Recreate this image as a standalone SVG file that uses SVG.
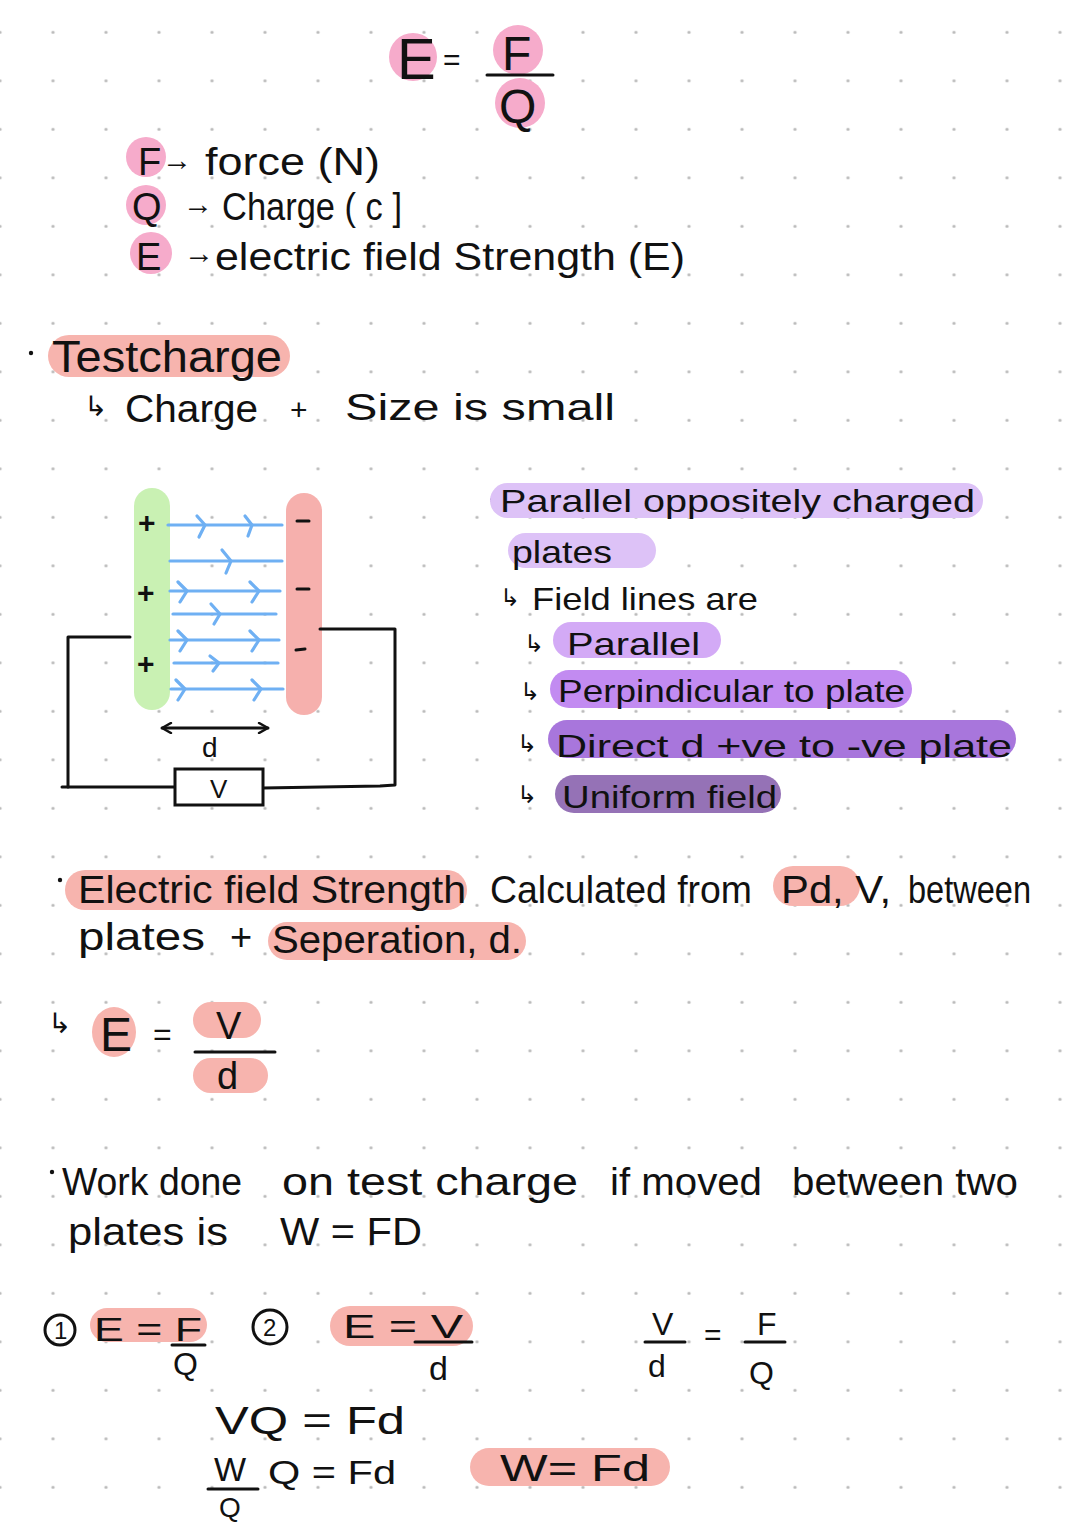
<svg xmlns="http://www.w3.org/2000/svg" width="1080" height="1526" viewBox="0 0 1080 1526">
<defs>
<pattern id="dots" x="-26.5" y="8.05" width="53" height="48.5" patternUnits="userSpaceOnUse">
<circle cx="26.5" cy="24.25" r="1.6" fill="#b9b9b9"/>
</pattern>
<marker id="chev" viewBox="0 0 12 12" refX="11" refY="6" markerWidth="12" markerHeight="12" markerUnits="userSpaceOnUse" orient="auto-start-reverse">
<path d="M2 1 L11 6 L2 11" fill="none" stroke="#111" stroke-width="2.5" stroke-linecap="round"/>
</marker>
</defs>
<style>
text{font-family:"Liberation Sans","DejaVu Sans",sans-serif;fill:#111;}
.h{font-size:38px;}
.m{font-size:32px;}
.arr{font-size:30px;}
.pink{fill:#f6abcb;}
.sal{fill:#f7b4ae;}
.wire{fill:none;stroke:#111;stroke-width:3;stroke-linecap:round;stroke-linejoin:round;}
.field{fill:none;stroke:#6fb0f3;stroke-width:3.2;stroke-linecap:round;}
.chev{fill:none;stroke:#6fb0f3;stroke-width:3.2;stroke-linecap:round;stroke-linejoin:round;}
.bar{stroke:#111;stroke-width:3;stroke-linecap:round;}
</style>
<rect width="1080" height="1526" fill="#ffffff"/>
<rect width="1080" height="1526" fill="url(#dots)"/>

<g id="formula-top">
<circle class="pink" cx="413" cy="57" r="24"/>
<circle class="pink" cx="518" cy="50" r="25"/>
<circle class="pink" cx="520" cy="103" r="25"/>
<text x="397" y="79" style="font-size:58px">E</text>
<text x="443" y="70" style="font-size:30px">=</text>
<text x="502" y="70" style="font-size:48px">F</text>
<line class="bar" x1="487" y1="75" x2="553" y2="75"/>
<text x="499" y="123" style="font-size:48px">Q</text>
</g>

<g id="legend">
<circle class="pink" cx="146" cy="157" r="20"/>
<circle class="pink" cx="146" cy="205" r="20"/>
<circle class="pink" cx="151" cy="253" r="21"/>
<text class="h" x="138" y="175">F</text>
<text class="arr" x="162" y="170">→</text>
<text class="h" x="205" y="175" textLength="175" lengthAdjust="spacingAndGlyphs">force (N)</text>
<text class="h" x="132" y="220">Q</text>
<text class="arr" x="183" y="214">→</text>
<text class="h" x="222" y="220" textLength="180" lengthAdjust="spacingAndGlyphs">Charge ( c ]</text>
<text class="h" x="136" y="270">E</text>
<text class="arr" x="184" y="263">→</text>
<text class="h" x="215" y="270" textLength="470" lengthAdjust="spacingAndGlyphs">electric field Strength (E)</text>
</g>

<g id="test-charge">
<circle cx="31" cy="353" r="2.2" fill="#111"/>
<rect class="sal" x="48" y="335" width="242" height="42" rx="21"/>
<text x="52" y="372" style="font-size:44px" textLength="230" lengthAdjust="spacingAndGlyphs">Testcharge</text>
<text x="84" y="416" style="font-size:28px">↳</text>
<text class="h" x="125" y="422" textLength="133" lengthAdjust="spacingAndGlyphs">Charge</text>
<text x="290" y="420" style="font-size:30px">+</text>
<text x="345" y="420" style="font-size:36px" textLength="270" lengthAdjust="spacingAndGlyphs">Size is small</text>
</g>

<g id="plates-diagram">
<rect x="134" y="488" width="36" height="222" rx="18" fill="#c9f1b3"/>
<rect x="286" y="493" width="36" height="222" rx="18" fill="#f6b0ad"/>
<text x="138" y="533" style="font-size:30px;font-weight:bold">+</text>
<text x="137" y="603" style="font-size:30px;font-weight:bold">+</text>
<text x="137" y="674" style="font-size:30px;font-weight:bold">+</text>
<line class="bar" x1="297" y1="521" x2="309" y2="521"/>
<line class="bar" x1="297" y1="589" x2="309" y2="589"/>
<line class="bar" x1="296" y1="650" x2="305" y2="649"/>
</g>

<g id="field-lines">
<line class="field" x1="168" y1="525" x2="282" y2="525"/>
<path class="chev" d="M197 516 L205 525 L199 537 M245 516 L252 525 L248 536"/>
<line class="field" x1="170" y1="561" x2="282" y2="561"/>
<path class="chev" d="M222 550 L231 561 L226 573"/>
<line class="field" x1="170" y1="591" x2="280" y2="591"/>
<path class="chev" d="M178 582 L187 591 L180 602 M250 582 L259 591 L252 602"/>
<line class="field" x1="173" y1="614" x2="276" y2="614"/>
<path class="chev" d="M211 604 L220 614 L214 624"/>
<line class="field" x1="170" y1="640" x2="279" y2="640"/>
<path class="chev" d="M178 631 L187 640 L180 651 M250 631 L259 640 L252 651"/>
<line class="field" x1="174" y1="663" x2="278" y2="663"/>
<path class="chev" d="M210 656 L219 663 L213 671"/>
<line class="field" x1="171" y1="689" x2="283" y2="689"/>
<path class="chev" d="M176 680 L185 689 L178 700 M252 680 L261 689 L254 700"/>
</g>

<g id="connectors">
<line class="wire" x1="162" y1="728" x2="268" y2="728" marker-start="url(#chev)" marker-end="url(#chev)"/>
<path class="wire" d="M130 637 L68 637 L68 787 L175 787"/>
<path class="wire" d="M62 787 L68 787"/>
<path class="wire" d="M263 788 L380 786 L395 785 L395 629 L320 629"/>
</g>

<g id="separation-label">
<text x="202" y="757" style="font-size:28px">d</text>
</g>

<g id="voltmeter">
<rect x="175" y="769" width="88" height="36" fill="#fff" stroke="#111" stroke-width="3"/>
<text x="210" y="798" style="font-size:26px">V</text>
</g>

<g id="parallel-notes">
<circle cx="492" cy="500" r="2" fill="#111"/>
<rect x="490" y="483" width="493" height="35" rx="17.5" fill="#ddc2f7"/>
<text class="m" x="500" y="512" textLength="475" lengthAdjust="spacingAndGlyphs">Parallel oppositely charged</text>
<rect x="508" y="533" width="148" height="35" rx="17.5" fill="#ddc2f7"/>
<text class="m" x="512" y="563" textLength="100" lengthAdjust="spacingAndGlyphs">plates</text>
<text x="500" y="606" style="font-size:24px">↳</text>
<text class="m" x="532" y="610" textLength="226" lengthAdjust="spacingAndGlyphs">Field lines are</text>
<text x="524" y="652" style="font-size:24px">↳</text>
<rect x="553" y="622" width="168" height="36" rx="18" fill="#d3aaf6"/>
<text class="m" x="567" y="655" textLength="133" lengthAdjust="spacingAndGlyphs">Parallel</text>
<text x="520" y="700" style="font-size:24px">↳</text>
<rect x="550" y="670" width="362" height="38" rx="19" fill="#c28bf1"/>
<text class="m" x="558" y="702" textLength="347" lengthAdjust="spacingAndGlyphs">Perpindicular to plate</text>
<text x="517" y="752" style="font-size:24px">↳</text>
<rect x="548" y="720" width="468" height="38" rx="19" fill="#a876dc"/>
<text class="m" x="556" y="757" textLength="456" lengthAdjust="spacingAndGlyphs">Direct d +ve to -ve plate</text>
<text x="517" y="803" style="font-size:24px">↳</text>
<rect x="555" y="775" width="226" height="38" rx="19" fill="#9572b6"/>
<text class="m" x="562" y="808" textLength="215" lengthAdjust="spacingAndGlyphs">Uniform field</text>
</g>

<g id="field-strength-note">
<circle cx="60" cy="880" r="2.2" fill="#111"/>
<rect class="sal" x="65" y="870" width="402" height="40" rx="20"/>
<text class="h" x="78" y="903" textLength="388" lengthAdjust="spacingAndGlyphs">Electric field Strength</text>
<text class="h" x="490" y="903" textLength="262" lengthAdjust="spacingAndGlyphs">Calculated from</text>
<rect class="sal" x="773" y="866" width="87" height="40" rx="20"/>
<text class="h" x="781" y="903" textLength="110" lengthAdjust="spacingAndGlyphs">Pd, V,</text>
<text class="h" x="908" y="903" textLength="123" lengthAdjust="spacingAndGlyphs">between</text>
<text class="h" x="78" y="950" textLength="127" lengthAdjust="spacingAndGlyphs">plates</text>
<text class="h" x="230" y="950">+</text>
<rect class="sal" x="268" y="922" width="258" height="38" rx="19"/>
<text class="h" x="272" y="953" textLength="250" lengthAdjust="spacingAndGlyphs">Seperation, d.</text>
</g>

<g id="formula-vd">
<text x="48" y="1033" style="font-size:28px">↳</text>
<ellipse class="sal" cx="114" cy="1032" rx="22" ry="25"/>
<text x="100" y="1051" style="font-size:48px">E</text>
<text x="153" y="1045" style="font-size:32px">=</text>
<rect class="sal" x="193" y="1002" width="68" height="36" rx="18"/>
<text x="216" y="1039" style="font-size:38px">V</text>
<line class="bar" x1="195" y1="1052" x2="275" y2="1052"/>
<rect class="sal" x="193" y="1058" width="75" height="35" rx="17.5"/>
<text x="217" y="1089" style="font-size:38px">d</text>
</g>

<g id="work-note">
<circle cx="52" cy="1172" r="2.2" fill="#111"/>
<text class="h" x="62" y="1195" textLength="180" lengthAdjust="spacingAndGlyphs">Work done</text>
<text class="h" x="282" y="1195" textLength="296" lengthAdjust="spacingAndGlyphs">on test charge</text>
<text class="h" x="610" y="1195" textLength="152" lengthAdjust="spacingAndGlyphs">if moved</text>
<text class="h" x="792" y="1195" textLength="226" lengthAdjust="spacingAndGlyphs">between two</text>
<text class="h" x="68" y="1245" textLength="160" lengthAdjust="spacingAndGlyphs">plates is</text>
<text class="h" x="280" y="1245" textLength="142" lengthAdjust="spacingAndGlyphs">W = FD</text>
</g>

<g id="eq1">
<circle cx="60" cy="1330" r="15" fill="none" stroke="#111" stroke-width="3"/>
<text x="54" y="1339" style="font-size:24px">1</text>
<rect class="sal" x="90" y="1308" width="117" height="34" rx="17"/>
<text x="94" y="1341" style="font-size:34px" textLength="108" lengthAdjust="spacingAndGlyphs">E = F</text>
<line class="bar" x1="172" y1="1345" x2="205" y2="1345"/>
<text x="173" y="1375" style="font-size:32px">Q</text>
</g>

<g id="eq2">
<circle cx="270" cy="1327" r="17" fill="none" stroke="#111" stroke-width="3"/>
<text x="263" y="1336" style="font-size:24px">2</text>
<rect class="sal" x="330" y="1306" width="143" height="40" rx="20"/>
<text x="343" y="1338" style="font-size:34px" textLength="120" lengthAdjust="spacingAndGlyphs">E = V</text>
<line class="bar" x1="415" y1="1342" x2="472" y2="1342"/>
<text x="429" y="1380" style="font-size:34px">d</text>
</g>

<g id="eq-equate">
<text x="652" y="1335" style="font-size:32px">V</text>
<line class="bar" x1="645" y1="1342" x2="685" y2="1342"/>
<text x="648" y="1377" style="font-size:32px">d</text>
<text x="704" y="1345" style="font-size:30px">=</text>
<text x="757" y="1335" style="font-size:32px">F</text>
<line class="bar" x1="745" y1="1342" x2="785" y2="1342"/>
<text x="749" y="1384" style="font-size:32px">Q</text>
</g>

<g id="eq-derive">
<text x="215" y="1434" style="font-size:38px" textLength="190" lengthAdjust="spacingAndGlyphs">VQ = Fd</text>
<text x="214" y="1481" style="font-size:34px">W</text>
<line class="bar" x1="208" y1="1489" x2="258" y2="1489"/>
<text x="219" y="1517" style="font-size:28px">Q</text>
<text x="268" y="1484" style="font-size:34px" textLength="128" lengthAdjust="spacingAndGlyphs">Q = Fd</text>
</g>

<g id="result">
<rect class="sal" x="470" y="1448" width="200" height="38" rx="19"/>
<text x="500" y="1481" style="font-size:36px" textLength="150" lengthAdjust="spacingAndGlyphs">W= Fd</text>
</g>
</svg>
